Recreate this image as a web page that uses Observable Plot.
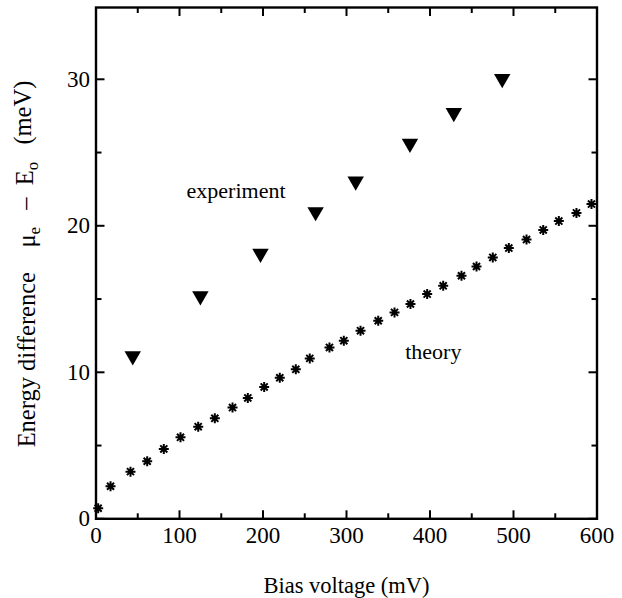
<!DOCTYPE html>
<html>
<head>
<meta charset="utf-8">
<script src="https://cdn.jsdelivr.net/npm/d3@7"></script>
<script src="https://cdn.jsdelivr.net/npm/@observablehq/plot@0.6"></script>
<style>
  html, body { margin: 0; padding: 0; background: #fff; }
  svg { display: block; }
  svg, svg text { font-family: "Liberation Serif", "DejaVu Serif", serif !important; }
</style>
</head>
<body>
<div id="chart"></div>
<script>
// Theory (asterisks)
const theoryX = [2.6, 17.4, 41.3, 61.3, 81.2, 101.2, 122.4, 142.3, 163.5, 181.8, 201.4, 220.1, 239.3, 256,
  279.6, 296.8, 316.8, 338, 357.5, 376.6, 396.6, 415.8, 437.7, 455.7, 475.2, 494.4, 515.6, 535.6, 554.3, 575.4, 593.4];
const theoryY = [0.72, 2.22, 3.22, 3.93, 4.77, 5.56, 6.29, 6.86, 7.59, 8.25, 9.0, 9.63, 10.2, 10.95,
  11.7, 12.16, 12.84, 13.52, 14.09, 14.66, 15.34, 15.9, 16.59, 17.22, 17.84, 18.48, 19.06, 19.72, 20.32, 20.88, 21.48];
// Experiment (triangles)
const expX = [44, 125, 197, 263, 311, 376, 428.5, 486.5];
const expY = [11.11, 15.21, 18.11, 20.95, 23.04, 25.61, 27.72, 30.04];

const xMajor = [0, 100, 200, 300, 400, 500, 600];
const xMinor = [50, 150, 250, 350, 450, 550];
const yMajor = [0, 10, 20, 30];
const yMinor = [5, 15, 25];

const annotations = [
  {x: 167.7, y: 22.4, text: "experiment"},
  {x: 404, y: 11.4, text: "theory"}
];

const theory = theoryX.map((x, i) => ({x, y: theoryY[i]}));
const experiment = expX.map((x, i) => ({x, y: expY[i]}));

// 8-armed asterisk symbol
const asterisk8 = {
  draw(context, size) {
    const r = Math.sqrt(size / Math.PI);
    for (let k = 0; k < 4; k++) {
      const a = k * Math.PI / 4;
      const dx = r * Math.cos(a), dy = r * Math.sin(a);
      context.moveTo(-dx, -dy);
      context.lineTo(dx, dy);
    }
  }
};

const FONT = "Liberation Serif, DejaVu Serif, serif";
const tickOpts = {strokeWidth: 2, tickFormat: () => "", label: null};

const chart = Plot.plot({
  width: 622,
  height: 598,
  marginLeft: 95.5,
  marginRight: 25.5,
  marginTop: 7,
  marginBottom: 79.7,
  style: {fontFamily: FONT, fontSize: "22px", color: "#000", background: "#fff"},
  x: {domain: [0, 600], axis: null},
  y: {domain: [0, 34.9], axis: null},
  marks: [
    // inward ticks
    Plot.axisX(xMajor, {...tickOpts, anchor: "bottom", tickSize: -8}),
    Plot.axisX(xMinor, {...tickOpts, anchor: "bottom", tickSize: -5}),
    Plot.axisX(xMajor, {...tickOpts, anchor: "top", tickSize: -8}),
    Plot.axisX(xMinor, {...tickOpts, anchor: "top", tickSize: -5}),
    Plot.axisY(yMajor, {...tickOpts, anchor: "left", tickSize: -9}),
    Plot.axisY(yMinor, {...tickOpts, anchor: "left", tickSize: -6}),
    Plot.axisY(yMajor, {...tickOpts, anchor: "right", tickSize: -9}),
    Plot.axisY(yMinor, {...tickOpts, anchor: "right", tickSize: -6}),
    // tick labels
    Plot.axisX(xMajor, {anchor: "bottom", tickSize: 0, tickPadding: 8, fontSize: 23, label: null}),
    Plot.axisY(yMajor, {anchor: "left", tickSize: 0, tickPadding: 6, fontSize: 23, label: null}),
    Plot.frame({stroke: "#000", strokeWidth: 2.4}),
    Plot.dot(theory, {x: "x", y: "y", symbol: asterisk8, r: 5, fill: "none", stroke: "#000", strokeWidth: 2}),
    Plot.dot(experiment, {x: "x", y: "y", symbol: "triangle", r: 6.1, fill: "#000", stroke: "none", rotate: 180}),
    Plot.text(annotations, {x: "x", y: "y", text: "text", fontSize: 22, fill: "#000"}),
    Plot.text(["Bias voltage (mV)"], {frameAnchor: "bottom", dy: 74, fontSize: 22.5, fill: "#000"})
  ]
});

// Y axis label with subscripts
const lab = d3.select(chart).append("text")
  .attr("transform", "translate(35,264) rotate(-90)")
  .attr("text-anchor", "middle")
  .attr("fill", "#000")
  .style("font-family", FONT)
  .style("font-size", "24.5px");
lab.append("tspan").text("Energy difference\u2003\u03bc");
lab.append("tspan").attr("dy", "0.3em").style("font-size", "17px").text("e");
lab.append("tspan").attr("dy", "-0.3em").text("\u2002\u2009\u2013\u2002E");
lab.append("tspan").attr("dy", "0.3em").style("font-size", "17px").text("o");
lab.append("tspan").attr("dy", "-0.3em").text("\u2002\u2009(meV)");

document.getElementById("chart").appendChild(chart);
</script>
</body>
</html>
